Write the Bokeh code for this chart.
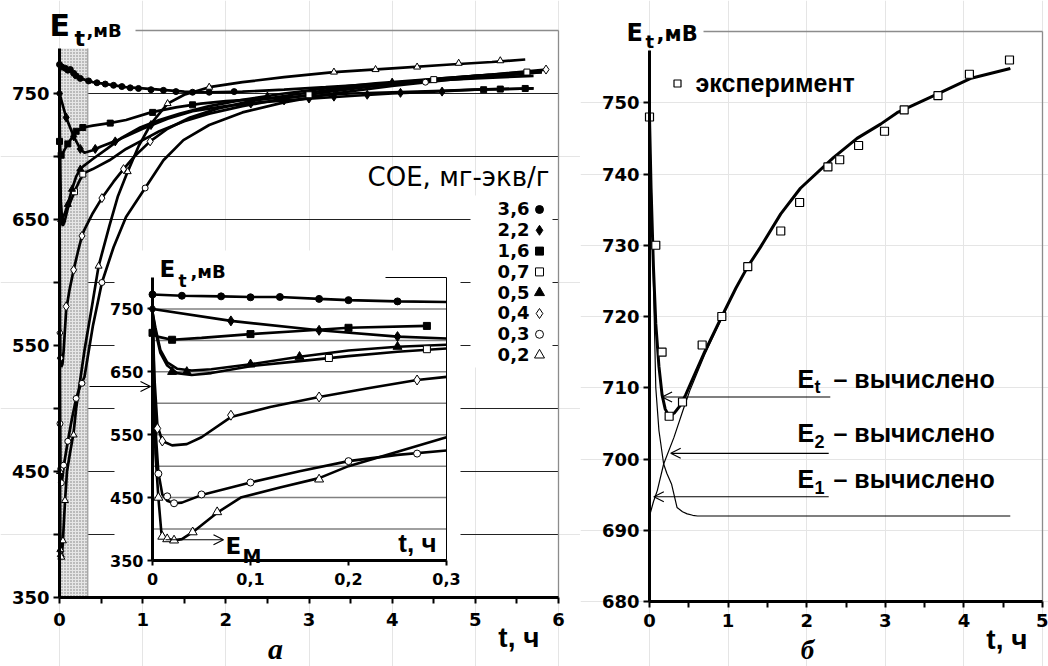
import numpy as np
from bokeh.plotting import figure
from bokeh.models import (Range1d, LinearAxis, FixedTicker, Label, Arrow, OpenHead,
                          CustomJSTickFormatter)
from bokeh.layouts import row
from bokeh.embed import file_html
from bokeh.resources import INLINE

# ===================== DATA: panel "а" (t, ч ; E_t, мВ) =====================
soe_labels = ["3,6", "2,2", "1,6", "0,7", "0,5", "0,4", "0,3", "0,2"]

t_36 = [0, 0.03, 0.07, 0.1, 0.13, 0.17, 0.2, 0.25, 0.3, 0.4, 0.5, 0.6, 0.8, 1.0, 1.2, 1.5, 1.8, 2.2, 2.7, 3.2, 3.8, 4.4, 5.0, 5.7]
e_36 = [773, 771, 770, 769, 769, 766, 764, 762, 761, 759, 758, 757, 755, 754, 753, 751.5, 751, 751.5, 753, 755, 757.5, 760, 762, 764]
mt_36 = [0, 0.03, 0.07, 0.1, 0.13, 0.17, 0.2, 0.25, 0.35, 0.45, 0.55, 0.65, 0.75, 0.85, 0.95, 1.1, 1.25, 1.4, 1.6, 1.8, 2.1]
me_36 = [773, 771, 770, 768.5, 769, 766, 764, 762, 760, 758.5, 757.5, 756.5, 755.5, 754.5, 754, 753, 752.5, 751.5, 751, 751, 751.5]

t_22 = [0, 0.08, 0.17, 0.25, 0.3, 0.4, 0.5, 0.7, 1.0, 1.3, 1.6, 2.0, 2.4, 3.0, 3.5, 4.0, 4.5, 5.0, 5.7]
e_22 = [750, 731, 716, 706, 703, 705, 708, 713, 722, 730, 736, 740, 743, 746, 748, 750, 751.5, 753, 754]
mt_22 = [0, 0.08, 0.17, 0.25, 0.43, 0.67, 1.1, 2.3, 2.7, 3.0, 3.3, 3.7, 4.1, 4.6]
me_22 = [750, 731, 716, 706, 706, 712, 725, 742, 744.5, 746, 747.5, 749, 750.5, 751.5]

t_16 = [0, 0.005, 0.02, 0.05, 0.1, 0.15, 0.2, 0.28, 0.4, 0.6, 0.8, 1.1, 1.4, 1.7, 2.0, 2.5, 3.0, 3.5, 4.0, 4.5, 5.0, 5.7]
e_16 = [712, 706, 701, 704, 710, 715, 720, 723, 724.5, 726.5, 729, 735, 739, 742, 744, 746, 748, 750, 751, 752, 753, 754]
mt_16 = [0, 0.02, 0.1, 0.2, 0.28, 0.61, 1.12, 1.6, 5.1, 5.3, 5.6]
me_16 = [712, 701, 710, 720, 723, 726.5, 735, 741, 753, 753.5, 754]

t_07 = [0, 0.003, 0.008, 0.015, 0.025, 0.04, 0.06, 0.1, 0.15, 0.2, 0.25, 0.3, 0.4, 0.6, 0.8, 1.0, 1.2, 1.5, 1.8, 2.2, 2.7, 3.2, 3.8, 4.4, 5.0, 5.6]
e_07 = [745, 715, 680, 660, 648, 645, 648, 659, 667, 675, 682, 687, 690, 697, 706, 713, 720, 728, 734, 740, 746, 751, 756, 760, 764, 767]
mt_07 = [0.18, 0.28, 3.0, 4.5, 5.62]
me_07 = [672, 686, 749, 761, 767]

t_05 = [0, 0.003, 0.008, 0.015, 0.025, 0.04, 0.06, 0.1, 0.15, 0.2, 0.25, 0.3, 0.4, 0.57, 0.75, 0.97, 1.2, 1.45, 1.8, 2.2, 2.7, 3.2, 3.8, 4.4, 5.0, 5.5, 5.8]
e_05 = [745, 720, 685, 665, 655, 652, 654, 662, 674, 684, 690, 693, 698, 706, 715, 723, 729, 734, 740, 745, 750, 754, 758, 761, 764, 766, 767]
mt_05 = [0.02, 0.035, 0.1, 0.15, 0.25, 2.5, 4.0]
me_05 = [650, 650, 662, 674, 690, 748, 759]

t_04 = [0, 0.002, 0.005, 0.01, 0.02, 0.035, 0.05, 0.08, 0.12, 0.17, 0.22, 0.27, 0.3, 0.4, 0.51, 0.65, 0.77, 0.9, 1.09, 1.3, 1.57, 1.9, 2.3, 2.8, 3.4, 4.0, 4.6, 5.2, 5.85]
e_04 = [745, 640, 565, 540, 533, 535, 546, 578, 594, 610, 624, 637, 642, 655, 667, 680, 690, 700, 712, 722, 731, 738, 744, 749, 754, 758, 762, 765, 769]
mt_04 = [0.005, 0.01, 0.08, 0.17, 0.27, 0.51, 0.77, 1.09, 5.85]
me_04 = [560, 540, 581, 610, 637, 667, 690, 712, 769]

t_03 = [0, 0.003, 0.006, 0.01, 0.015, 0.022, 0.03, 0.05, 0.1, 0.15, 0.2, 0.25, 0.3, 0.4, 0.51, 0.65, 0.8, 1.03, 1.25, 1.49, 1.8, 2.2, 2.7, 3.3, 4.0, 4.7, 5.3, 5.8]
e_03 = [745, 560, 490, 455, 445, 441, 442, 454, 474, 492, 508, 518, 525, 565, 600, 628, 652, 675, 697, 713, 725, 735, 743, 750, 756, 761, 764, 767]
mt_03 = [0.006, 0.015, 0.022, 0.05, 0.1, 0.2, 0.27, 0.51, 1.03, 4.4]
me_03 = [488, 452, 441, 455, 474, 508, 520, 600, 675, 759]

t_02 = [0, 0.003, 0.006, 0.009, 0.013, 0.022, 0.03, 0.041, 0.066, 0.09, 0.13, 0.17, 0.2, 0.25, 0.3, 0.4, 0.47, 0.6, 0.7, 0.82, 0.95, 1.1, 1.3, 1.5, 1.8, 2.2, 2.7, 3.3, 4.0, 4.7, 5.2, 5.6]
e_02 = [745, 520, 450, 395, 385, 382, 384, 395, 426, 450, 466, 481, 500, 523, 546, 585, 613, 645, 668, 688, 708, 726, 742, 749, 755, 759, 763, 767, 770, 773, 775, 777]
mt_02 = [0.006, 0.01, 0.015, 0.022, 0.041, 0.066, 0.17, 0.47, 0.82, 1.3, 1.8, 3.3, 3.8, 4.3, 4.8, 5.3]
me_02 = [450, 388, 384, 382, 395, 427, 479, 613, 688, 742, 755, 767, 769, 771, 774, 776]

main_xticks = [0, 1, 2, 3, 4, 5, 6]
main_xminor = [0.5, 1.5, 2.5, 3.5, 4.5, 5.5]
main_yticks = [350, 450, 550, 650, 750]
main_yminor = [400, 500, 600, 700]
main_grid = [400, 450, 500, 550, 600, 650, 700, 750]
inset_xticks = [0, 0.1, 0.2, 0.3]
inset_xlabels = ["0", "0,1", "0,2", "0,3"]
inset_yticks = [350, 450, 550, 650, 750]
inset_grid = [400, 450, 500, 550, 600, 650, 700, 750]
band_t = [0, 0.34]          # dotted early-time band (inset region)
EM_value = 383              # E_M, mV
inset_cut = 0.3

# ===================== DATA: panel "б" =====================
exp_t = [0, 0.08, 0.16, 0.25, 0.42, 0.67, 0.92, 1.25, 1.67, 1.91, 2.27, 2.42, 2.66, 2.99, 3.24, 3.67, 4.07, 4.58]
exp_E = [748, 730, 715, 706, 708, 716, 720, 727, 732, 736, 741, 742, 744, 746, 749, 751, 754, 756]
Et_t = [0, 0.02, 0.05, 0.08, 0.12, 0.16, 0.2, 0.25, 0.32, 0.39, 0.46, 0.52, 0.7, 0.92, 1.1, 1.25, 1.41, 1.67, 1.92, 2.34, 2.64, 2.94, 3.15, 3.66, 4.08, 4.59]
Et_E = [748, 738, 727, 719, 713, 709, 707, 706, 706.5, 707.5, 709, 710.5, 715, 720, 724, 727, 729.7, 734.4, 738, 742.3, 745, 747, 748.6, 751.2, 753.4, 754.8]
E2_t = [0, 0.05, 0.1, 0.18, 0.31, 0.44, 0.52, 0.7, 0.92, 1.1, 1.25, 1.41, 1.67, 1.92, 2.34, 2.64, 2.94, 3.15, 3.66, 4.08, 4.59]
E2_E = [692, 694, 695.6, 699.3, 703, 707.3, 709.8, 714.6, 719.8, 724, 727, 729.7, 734.4, 738, 742.3, 745, 747, 748.6, 751.2, 753.4, 754.8]
E1_t = [0, 0.03, 0.06, 0.08, 0.12, 0.18, 0.22, 0.28, 0.35, 0.42, 0.48, 0.55, 0.61, 1.0, 2.0, 3.0, 4.0, 4.59]
E1_E = [748, 735, 720, 710, 704, 699.3, 698, 696.5, 693.2, 692.6, 692.3, 692.1, 692, 692, 692, 692, 692, 692]
b_xticks = [0, 1, 2, 3, 4, 5]
b_xminor = [0.5, 1.5, 2.5, 3.5, 4.5]
b_yticks = [680, 690, 700, 710, 720, 730, 740, 750]
arrow_Et = (2.30, 0.16, 708.7)
arrow_E2 = (2.28, 0.27, 700.8)
arrow_E1 = (2.28, 0.055, 694.7)

# ===================== styling / geometry =====================
SANS = "DejaVu Sans"
ARIAL = "Liberation Sans"
SERIF = "Liberation Serif"
GRAY = "#8c8c8c"
LIFT = 0.4   # baseline correction, in em

# panel а: frame in page pixels
A_L, A_R, A_T, A_B = 59, 558, 30, 597
def ax(px): return (px - A_L) * 6.0 / (A_R - A_L)
def ay(py): return 350 + (A_B - py) * 450.0 / (A_B - A_T)
# inset mapping (page pixels)
I_L, I_R, I_T, I_B = 152, 446, 277, 560
def ix(px): return (px - I_L) * 0.3 / (I_R - I_L)
def iy(py): return 350 + (I_B - py) * 450.0 / (I_B - I_T)
# panel б frame (page pixels)
B_OFF = 580
B_L, B_R, B_T, B_B = 649, 1042, 31, 601
def bx(px): return (px - B_L) * 5.0 / (B_R - B_L)
def by(py): return 680 + (B_B - py) * 80.0 / (B_B - B_T)


def style_axis(a, size=18, tick=6, standoff=8):
    a.axis_line_width = 3
    a.axis_line_color = "black"
    a.major_tick_line_width = 2
    a.minor_tick_line_width = 2
    a.major_tick_in = 0
    a.major_tick_out = tick
    a.minor_tick_in = 0
    a.minor_tick_out = tick
    a.major_label_text_font = SANS
    a.major_label_text_font_style = "bold"
    a.major_label_text_font_size = f"{size}px"
    a.major_label_text_color = "black"
    a.major_label_standoff = standoff


def lbl(p, px, py, text, size, cx, cy, style="bold", align="left", font=SANS,
        xr="default", yr="default"):
    """Text placed by its page-pixel baseline position (px, py)."""
    p.add_layout(Label(x=cx(px), y=cy(py - LIFT * size), text=text, text_font=font,
                       text_font_size=f"{size}px", text_font_style=style,
                       text_align=align, text_baseline="alphabetic",
                       text_color="black", x_range_name=xr, y_range_name=yr))


def arrow(p, x0, y0, x1, y1, xr="default", yr="default"):
    p.add_layout(Arrow(end=OpenHead(size=10, line_width=1.2, line_color="black"),
                       x_start=x0, y_start=y0, x_end=x1, y_end=y1,
                       line_width=1.2, line_color="black",
                       x_range_name=xr, y_range_name=yr))


# ===================== panel а =====================
p1 = figure(width=580, height=666, x_range=Range1d(ax(0), ax(580)),
            y_range=Range1d(ay(666), ay(0)), x_axis_location=None, y_axis_location=None,
            output_backend="svg", toolbar_location=None, min_border=0)
p1.outline_line_color = None
p1.background_fill_color = "white"
p1.border_fill_color = "white"
p1.extra_x_ranges = {"ix": Range1d(ix(0), ix(580))}
p1.extra_y_ranges = {"iy": Range1d(iy(666), iy(0))}

# main grid lines
p1.segment(x0=0, x1=6, y0=main_grid, y1=main_grid, line_color="#222222", line_width=1)

# dotted band
p1.quad(left=band_t[0], right=band_t[1], bottom=350, top=ay(48),
        fill_color="#e6e6e6", hatch_pattern=".", hatch_color="#7a7a7a",
        hatch_scale=3, hatch_weight=1, line_color=None)
p1.segment(x0=band_t[1], x1=band_t[1], y0=350, y1=ay(48), line_color="#9a9a9a", line_width=1.2)

# white boxes behind inset and legend
p1.quad(left=ix(114), right=ix(460), bottom=iy(A_B), top=iy(250),
        x_range_name="ix", y_range_name="iy", fill_color="white", line_color=None)
p1.quad(left=ax(470), right=ax(552), bottom=ay(367), top=ay(195),
        fill_color="white", line_color=None)

# main frame (top + right)
p1.segment(x0=ax(135), x1=6, y0=800, y1=800, line_color=GRAY, line_width=1.3)
p1.segment(x0=6, x1=6, y0=350, y1=800, line_color=GRAY, line_width=1.3)

series = [
    ("circle", "black", t_36, e_36, mt_36, me_36),
    ("diamond", "black", t_22, e_22, mt_22, me_22),
    ("square", "black", t_16, e_16, mt_16, me_16),
    ("square", "white", t_07, e_07, mt_07, me_07),
    ("triangle", "black", t_05, e_05, mt_05, me_05),
    ("diamond", "white", t_04, e_04, mt_04, me_04),
    ("circle", "white", t_03, e_03, mt_03, me_03),
    ("triangle", "white", t_02, e_02, mt_02, me_02),
]
main_size = {"circle": 6, "diamond": 9, "square": 6, "triangle": 7}
inset_size = {"circle": 7, "diamond": 10, "square": 7, "triangle": 9}
leg_size = {"circle": 8, "diamond": 10, "square": 8, "triangle": 10}

for mk, fc, tc, ec, tm, em in series:
    p1.line(tc, ec, line_color="black", line_width=2.7)
for mk, fc, tc, ec, tm, em in series:
    p1.scatter(tm, em, marker=mk, size=main_size[mk], fill_color=fc,
               line_color="black", line_width=1)

# inset grid + frame
p1.segment(x0=0, x1=inset_cut, y0=inset_grid, y1=inset_grid, x_range_name="ix",
           y_range_name="iy", line_color="#808080", line_width=1.5)
p1.segment(x0=ix(385), x1=inset_cut, y0=800, y1=800, x_range_name="ix",
           y_range_name="iy", line_color="black", line_width=1)
p1.segment(x0=inset_cut, x1=inset_cut, y0=350, y1=800, x_range_name="ix",
           y_range_name="iy", line_color="black", line_width=1)

for mk, fc, tc, ec, tm, em in series:
    tc_a, ec_a = np.array(tc), np.array(ec)
    m = tc_a <= inset_cut + 1e-9
    p1.line(tc_a[m], ec_a[m], x_range_name="ix", y_range_name="iy",
            line_color="black", line_width=2.6)
for mk, fc, tc, ec, tm, em in series:
    tm_a, em_a = np.array(tm), np.array(em)
    m = tm_a <= inset_cut + 1e-9
    p1.scatter(tm_a[m], em_a[m], marker=mk, size=inset_size[mk], fill_color=fc,
               line_color="black", line_width=1, x_range_name="ix", y_range_name="iy")

# main axes
mx = LinearAxis(fixed_location=350, bounds=(0, 6),
                ticker=FixedTicker(ticks=main_xticks, minor_ticks=main_xminor))
style_axis(mx, size=18, tick=6, standoff=9)
p1.add_layout(mx, "below")
my = LinearAxis(fixed_location=0, bounds=(350, ay(48)),
                ticker=FixedTicker(ticks=main_yticks, minor_ticks=main_yminor))
style_axis(my, size=18, tick=6, standoff=4)
p1.add_layout(my, "left")

# inset axes
iax = LinearAxis(x_range_name="ix", y_range_name="iy", fixed_location=350,
                 bounds=(0, inset_cut),
                 ticker=FixedTicker(ticks=inset_xticks, minor_ticks=[]))
iax.formatter = CustomJSTickFormatter(
    args=dict(tvals=inset_xticks, tlabs=inset_xlabels),
    code="const k = tvals.findIndex(v => Math.abs(v - tick) < 1e-9); return k >= 0 ? tlabs[k] : String(tick);")
style_axis(iax, size=16, tick=5, standoff=7)
p1.add_layout(iax, "below")
iay = LinearAxis(x_range_name="ix", y_range_name="iy", fixed_location=0,
                 bounds=(350, 800),
                 ticker=FixedTicker(ticks=inset_yticks, minor_ticks=[]))
style_axis(iay, size=16, tick=5, standoff=4)
p1.add_layout(iay, "left")

A = dict(cx=ax, cy=ay)
I = dict(cx=ix, cy=iy, xr="ix", yr="iy")

# titles and axis names
lbl(p1, 49, 37, "E", 30, **A)
lbl(p1, 74, 47, "t", 22, **A)
lbl(p1, 86, 37, ",мВ", 18, **A)
lbl(p1, 159, 278, "E", 23, **I)
lbl(p1, 178, 287, "t", 17, **I)
lbl(p1, 190, 278, ",мВ", 18, **I)
lbl(p1, 539, 648, "t, ч", 28, align="right", font=ARIAL, **A)
lbl(p1, 436, 553, "t, ч", 26, align="right", font=ARIAL, **I)
lbl(p1, 275, 660, "а", 30, style="bold italic", align="center", font=SERIF, **A)

# E_M mark
arrow(p1, ix(165), EM_value, ix(223), EM_value, xr="ix", yr="iy")
lbl(p1, 225, 555, "E", 23, **I)
lbl(p1, 242, 563, "М", 19, **I)
# arrow from band to inset axis
arrow(p1, ix(89), iy(386), ix(150), iy(386), xr="ix", yr="iy")

# legend
lbl(p1, 549, 187, "СОЕ, мг-экв/г", 26, style="normal", align="right", **A)
for i, (lab, (mk, fc, *_rest)) in enumerate(zip(soe_labels, series)):
    base = 215.5 + 20.8 * i
    lbl(p1, 529, base, lab, 18, align="right", **A)
    p1.scatter([ax(539)], [ay(base - 6.5)], marker=mk, size=leg_size[mk],
               fill_color=fc, line_color="black", line_width=1)

# ===================== panel б =====================
p2 = figure(width=468, height=666, x_range=Range1d(bx(B_OFF), bx(B_OFF + 468)),
            y_range=Range1d(by(666), by(0)), x_axis_location=None, y_axis_location=None,
            output_backend="svg", toolbar_location=None, min_border=0)
p2.outline_line_color = None
p2.background_fill_color = "white"
p2.border_fill_color = "white"

p2.segment(x0=bx(703), x1=5, y0=760, y1=760, line_color=GRAY, line_width=1.3)
p2.segment(x0=5, x1=5, y0=680, y1=760, line_color=GRAY, line_width=1.3)

p2.line(E1_t, E1_E, line_color="black", line_width=1.2)
p2.line(E2_t, E2_E, line_color="black", line_width=1.2)
p2.line(Et_t, Et_E, line_color="black", line_width=3)
p2.scatter(exp_t, exp_E, marker="square", size=8, fill_color="white",
           line_color="black", line_width=1.2)

bxa = LinearAxis(fixed_location=680, bounds=(0, 5),
                 ticker=FixedTicker(ticks=b_xticks, minor_ticks=b_xminor))
style_axis(bxa, size=18, tick=6, standoff=6)
p2.add_layout(bxa, "below")
bya = LinearAxis(fixed_location=0, bounds=(680, by(50)),
                 ticker=FixedTicker(ticks=b_yticks, minor_ticks=[]))
style_axis(bya, size=18, tick=6, standoff=4)
p2.add_layout(bya, "left")

B = dict(cx=bx, cy=by)
p2.scatter([bx(677)], [by(83)], marker="square", size=7, fill_color="white",
           line_color="black", line_width=1.2)
lbl(p2, 695, 92, "эксперимент", 25, font=ARIAL, **B)

for (t0, t1, ev), sub, base in [(arrow_Et, "t", 388), (arrow_E2, "2", 442), (arrow_E1, "1", 488)]:
    arrow(p2, t0, ev, t1, ev)
    lbl(p2, 797, base, "E", 25, font=ARIAL, **B)
    lbl(p2, 814, base + 6, sub, 18, font=ARIAL, **B)
    lbl(p2, 833, base, "– вычислено", 25, font=ARIAL, **B)

lbl(p2, 626, 42, "E", 24, **B)
lbl(p2, 645, 48, "t", 18, **B)
lbl(p2, 656, 42, ",мВ", 21, **B)
lbl(p2, 1027, 650, "t, ч", 28, align="right", font=ARIAL, **B)
lbl(p2, 807, 660, "б", 27, style="bold italic", align="center", font=SERIF, **B)

layout = row(p1, p2)
open("out.html", "w").write(file_html(layout, INLINE))
